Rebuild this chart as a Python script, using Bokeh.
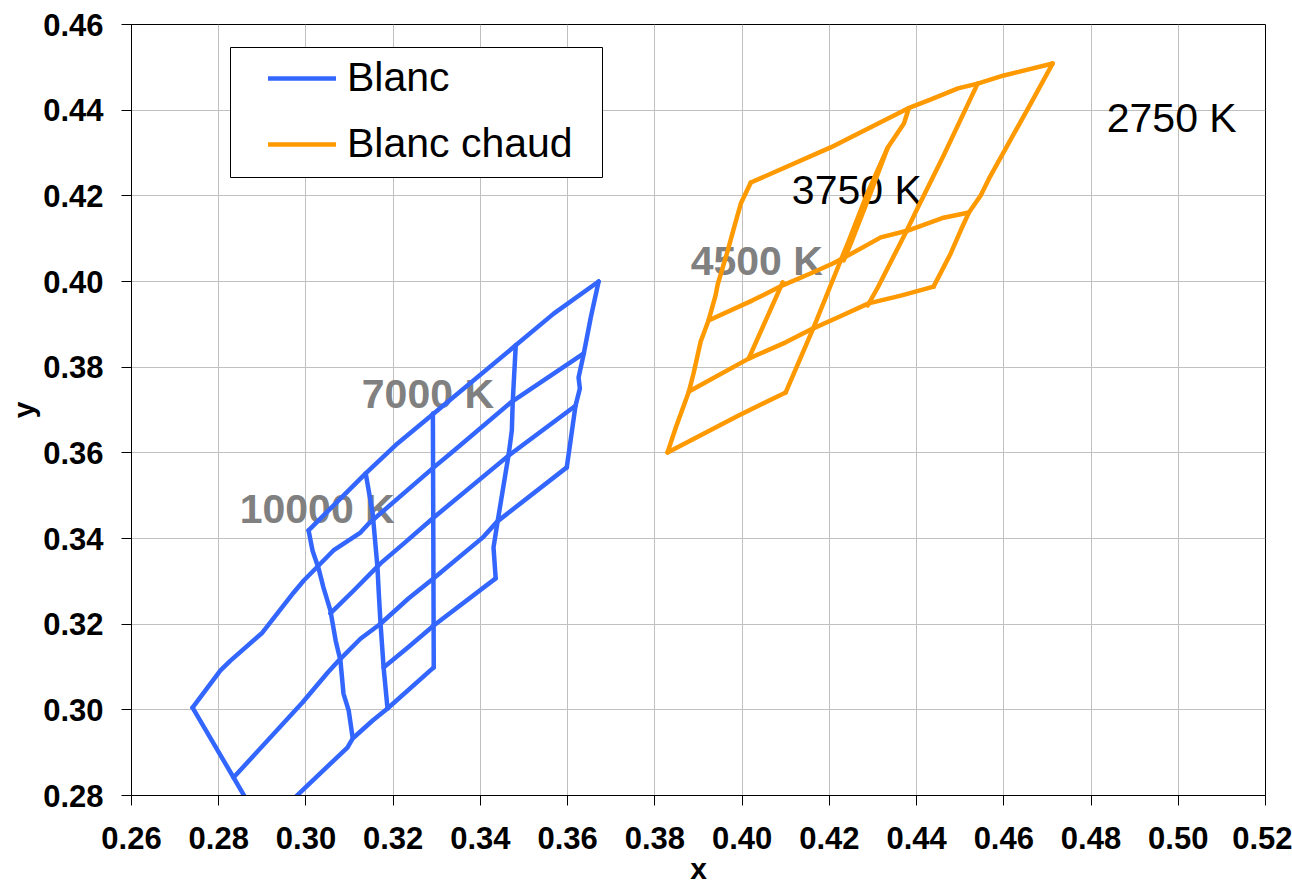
from bokeh.plotting import figure
from bokeh.models import (Range1d, FixedTicker, PrintfTickFormatter, Legend, LegendItem,
                          BoxAnnotation, ColumnDataSource)
from bokeh.core.properties import value
from bokeh.embed import file_html
from bokeh.resources import INLINE

FONT = "Liberation Sans"
BLUE = "#3366FF"
ORANGE = "#FF9900"
GRAY_TXT = "#808080"

# ---- "Blanc" grid: iso-lines running lower-left to upper-right ----
blanc_d1_x = [0.3006, 0.3137, 0.3210, 0.3293, 0.3481, 0.3568, 0.3671]
blanc_d1_y = [0.3419, 0.3552, 0.3622, 0.3692, 0.3851, 0.3925, 0.4000]
blanc_d2_x = [0.2740, 0.2804, 0.2827, 0.2900, 0.2972, 0.2995, 0.3063, 0.3125, 0.3144, 0.3293, 0.3339, 0.3469, 0.3637]
blanc_d2_y = [0.3005, 0.3092, 0.3115, 0.3180, 0.3274, 0.3302, 0.3372, 0.3414, 0.3435, 0.3566, 0.3605, 0.3717, 0.3832]
blanc_d3_x = [0.3056, 0.3109, 0.3171, 0.3224, 0.3293, 0.3465, 0.3618]
blanc_d3_y = [0.3225, 0.3278, 0.3342, 0.3388, 0.3449, 0.3594, 0.3710]
blanc_d4_x = [0.2834, 0.2992, 0.3050, 0.3075, 0.3125, 0.3171, 0.3235, 0.3293, 0.3405, 0.3439, 0.3598]
blanc_d4_y = [0.2842, 0.3017, 0.3087, 0.3115, 0.3166, 0.3201, 0.3260, 0.3307, 0.3402, 0.3440, 0.3566]
blanc_d5_x = [0.3178, 0.3233, 0.3293, 0.3435]
blanc_d5_y = [0.3099, 0.3145, 0.3197, 0.3307]
blanc_d6_x = [0.2944, 0.2999, 0.3095, 0.3107, 0.3153, 0.3187, 0.3293]
blanc_d6_y = [0.2765, 0.2819, 0.2912, 0.2933, 0.2975, 0.3003, 0.3099]

# ---- "Blanc" grid: isotherm edges ----
blanc_v0_x = [0.2740, 0.2834, 0.2878]
blanc_v0_y = [0.3005, 0.2842, 0.2765]
blanc_v1_x = [0.3006, 0.3015, 0.3029, 0.3040, 0.3056, 0.3068, 0.3079, 0.3086, 0.3098, 0.3107]
blanc_v1_y = [0.3419, 0.3372, 0.3330, 0.3286, 0.3232, 0.3162, 0.3115, 0.3038, 0.2998, 0.2935]
blanc_v2_x = [0.3137, 0.3153, 0.3164, 0.3167, 0.3171, 0.3178, 0.3187]
blanc_v2_y = [0.3552, 0.3458, 0.3332, 0.3272, 0.3201, 0.3099, 0.3003]
blanc_v3_x = [0.3291, 0.3293]
blanc_v3_y = [0.3692, 0.3099]
blanc_v4_x = [0.3481, 0.3474, 0.3472, 0.3465, 0.3439, 0.3430, 0.3435]
blanc_v4_y = [0.3851, 0.3717, 0.3652, 0.3598, 0.3437, 0.3379, 0.3307]
blanc_v5_x = [0.3671, 0.3653, 0.3637, 0.3625, 0.3628, 0.3618, 0.3598]
blanc_v5_y = [0.4000, 0.3916, 0.3832, 0.3776, 0.3750, 0.3710, 0.3566]

# ---- "Blanc chaud" grid ----
chaud_top_x = [0.4020, 0.4203, 0.4380, 0.4433, 0.4495, 0.4540, 0.4600, 0.4712]
chaud_top_y = [0.4231, 0.4313, 0.4404, 0.4425, 0.4451, 0.4462, 0.4481, 0.4509]
chaud_mid1_x = [0.3923, 0.4024, 0.4093, 0.4162, 0.4208, 0.4231, 0.4318, 0.4380, 0.4462, 0.4520]
chaud_mid1_y = [0.3909, 0.3956, 0.3991, 0.4021, 0.4042, 0.4054, 0.4103, 0.4119, 0.4149, 0.4161]
chaud_mid2_x = [0.3878, 0.4015, 0.4100, 0.4162, 0.4219, 0.4290, 0.4364, 0.4439]
chaud_mid2_y = [0.3743, 0.3820, 0.3858, 0.3890, 0.3916, 0.3949, 0.3967, 0.3988]
chaud_bot_x = [0.3829, 0.3992, 0.4100]
chaud_bot_y = [0.3601, 0.3687, 0.3741]
chaud_left_x = [0.3829, 0.3848, 0.3878, 0.3889, 0.3905, 0.3923, 0.3939, 0.3944, 0.3967, 0.3981, 0.3997, 0.4020]
chaud_left_y = [0.3601, 0.3659, 0.3743, 0.3787, 0.3860, 0.3909, 0.3967, 0.3993, 0.4072, 0.4124, 0.4182, 0.4231]
chaud_s1_x = [0.4015, 0.4093]
chaud_s1_y = [0.3820, 0.3998]
chaud_s2a_x = [0.4100, 0.4164, 0.4226, 0.4245, 0.4288, 0.4334, 0.4371, 0.4382]
chaud_s2a_y = [0.3741, 0.3893, 0.4049, 0.4096, 0.4208, 0.4313, 0.4369, 0.4404]
chaud_s2b_x = [0.4233, 0.4252, 0.4295, 0.4334]
chaud_s2b_y = [0.4049, 0.4096, 0.4208, 0.4313]
chaud_s3_x = [0.4288, 0.4311, 0.4375, 0.4403, 0.4462, 0.4540]
chaud_s3_y = [0.3944, 0.3986, 0.4114, 0.4173, 0.4294, 0.4462]
chaud_right_x = [0.4712, 0.4662, 0.4566, 0.4547, 0.4520, 0.4501, 0.4478, 0.4439]
chaud_right_y = [0.4509, 0.4416, 0.4240, 0.4201, 0.4161, 0.4119, 0.4065, 0.3988]

# ---- colour temperature annotations (x = left edge, y = vertical centre) ----
cct_text = ["2750 K", "3750 K", "4500 K", "7000 K", "10000 K"]
cct_x = [0.4836, 0.4114, 0.3882, 0.3128, 0.2848]
cct_y = [0.4381, 0.4214, 0.4049, 0.3738, 0.3468]
cct_color = ["black", "black", GRAY_TXT, GRAY_TXT, GRAY_TXT]
cct_style = ["normal", "normal", "bold", "bold", "bold"]

x_ticks = [0.26, 0.28, 0.30, 0.32, 0.34, 0.36, 0.38, 0.40, 0.42, 0.44, 0.46, 0.48, 0.50, 0.52]
y_ticks = [0.28, 0.30, 0.32, 0.34, 0.36, 0.38, 0.40, 0.42, 0.44, 0.46]

blanc_xs = [blanc_d1_x, blanc_d2_x, blanc_d3_x, blanc_d4_x, blanc_d5_x, blanc_d6_x,
            blanc_v0_x, blanc_v1_x, blanc_v2_x, blanc_v3_x, blanc_v4_x, blanc_v5_x]
blanc_ys = [blanc_d1_y, blanc_d2_y, blanc_d3_y, blanc_d4_y, blanc_d5_y, blanc_d6_y,
            blanc_v0_y, blanc_v1_y, blanc_v2_y, blanc_v3_y, blanc_v4_y, blanc_v5_y]
chaud_xs = [chaud_top_x, chaud_mid1_x, chaud_mid2_x, chaud_bot_x, chaud_left_x,
            chaud_s1_x, chaud_s2a_x, chaud_s2b_x, chaud_s3_x, chaud_right_x]
chaud_ys = [chaud_top_y, chaud_mid1_y, chaud_mid2_y, chaud_bot_y, chaud_left_y,
            chaud_s1_y, chaud_s2a_y, chaud_s2b_y, chaud_s3_y, chaud_right_y]

p = figure(width=1292, height=887, output_backend="svg", toolbar_location=None,
           x_range=Range1d(x_ticks[0], x_ticks[-1]), y_range=Range1d(y_ticks[0], y_ticks[-1]),
           min_border_left=131, min_border_right=27, min_border_top=24, min_border_bottom=92)
p.background_fill_color = "white"
p.border_fill_color = "white"
p.outline_line_color = "black"
p.outline_line_width = 1

# axes
for ax in (p.xaxis[0], p.yaxis[0]):
    ax.axis_line_color = "black"
    ax.axis_line_width = 1
    ax.major_tick_line_color = "black"
    ax.major_tick_in = 0
    ax.major_tick_out = 10
    ax.minor_tick_line_color = None
    ax.major_label_text_font = FONT
    ax.major_label_text_font_style = "bold"
    ax.major_label_text_font_size = "31px"
    ax.major_label_text_color = "black"
    ax.axis_label_text_font = FONT
    ax.axis_label_text_font_style = "bold"
    ax.axis_label_text_font_size = "30px"
    ax.axis_label_text_color = "black"
p.xaxis.ticker = FixedTicker(ticks=x_ticks)
p.yaxis.ticker = FixedTicker(ticks=y_ticks)
p.xaxis.formatter = PrintfTickFormatter(format="%.2f")
p.yaxis.formatter = PrintfTickFormatter(format="%.2f")
p.xaxis.major_label_standoff = 21
p.yaxis.major_label_standoff = 18
p.xaxis.axis_label = "x"
p.xaxis.axis_label_standoff = 0
p.yaxis.axis_label = "y"
p.yaxis.axis_label_standoff = 0

p.xgrid.grid_line_color = "#c0c0c0"
p.ygrid.grid_line_color = "#c0c0c0"
p.xgrid.grid_line_width = 1
p.ygrid.grid_line_width = 1

# temperature labels are drawn first so the grid lines pass over them
src = ColumnDataSource(dict(x=cct_x, y=cct_y, text=cct_text, color=cct_color, style=cct_style))
p.text(x="x", y="y", text="text", source=src, text_color="color", text_font_style="style",
       text_font=value(FONT), text_font_size="41px", text_align="left",
       text_baseline="middle")

r_blanc = p.multi_line(xs=blanc_xs, ys=blanc_ys, line_color=BLUE, line_width=4.5,
                       line_join="round", line_cap="round")
r_chaud = p.multi_line(xs=chaud_xs, ys=chaud_ys, line_color=ORANGE, line_width=4.5,
                       line_join="round", line_cap="round")

# legend frame, then the legend itself (location = bottom-left corner, frame pixels)
box = BoxAnnotation(left=99, right=471, top=748, bottom=618,
                    left_units="screen", right_units="screen",
                    top_units="screen", bottom_units="screen",
                    fill_color="white", fill_alpha=1.0,
                    line_color="black", line_width=1, line_alpha=1.0)
p.add_layout(box)

legend = Legend(items=[LegendItem(label="Blanc", renderers=[r_blanc]),
                       LegendItem(label="Blanc chaud", renderers=[r_chaud])],
                location=(127, 618), padding=10, spacing=19, margin=0,
                glyph_width=68, glyph_height=46, label_height=46, label_standoff=11,
                label_text_font=FONT, label_text_font_size="41px", label_text_color="black",
                border_line_alpha=0, background_fill_alpha=0)
p.add_layout(legend)

open("out.html", "w").write(file_html(p, INLINE))
